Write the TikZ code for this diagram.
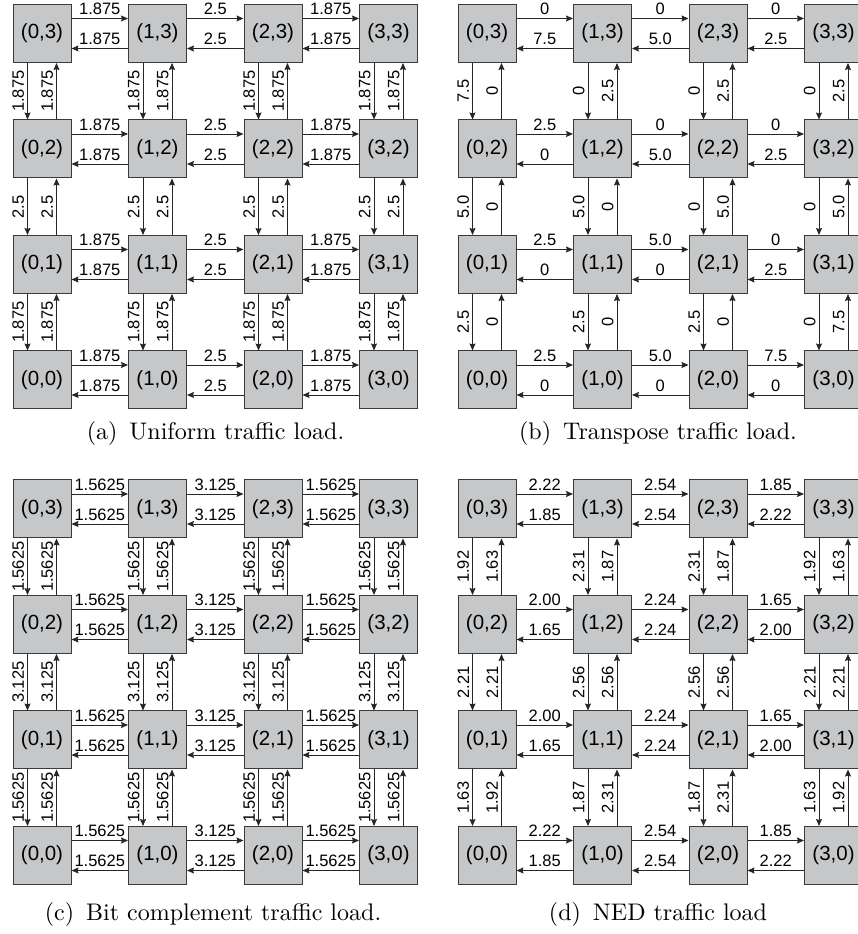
\documentclass[tikz,border=0pt]{standalone}
\usepackage{fontspec}
\usepackage{tikz}
\usetikzlibrary{arrows.meta, positioning}
\newfontfamily\meshfont{Liberation Sans}
\definecolor{routerfill}{HTML}{C6C7C9}
\definecolor{routerline}{HTML}{3A3A3A}
\definecolor{linkline}{HTML}{262626}

% one 4x4 mesh: prefix, horizontal loads i/j/east/west, vertical loads i/j/down/up
\newcommand{\meshpanel}[3]{%
  \foreach \i in {0,...,3}
    \foreach \j in {0,...,3}
      \node[router] (#1\i\j) at (\i*115.5, \j*115.5) {(\i,\j)};
  \foreach \i/\j/\lr/\rl in {#2} {
    \pgfmathtruncatemacro{\k}{\i+1}
    \draw[link] ([yshift=15pt]#1\i\j.east) -- node[hload] {\lr} ([yshift=15pt]#1\k\j.west);
    \draw[link] ([yshift=-15pt]#1\k\j.west) -- node[hload] {\rl} ([yshift=-15pt]#1\i\j.east);
  }
  \foreach \i/\j/\tb/\bt in {#3} {
    \pgfmathtruncatemacro{\k}{\j-1}
    \draw[link] ([xshift=-14.5pt]#1\i\j.south) -- node[vload] {\tb} ([xshift=-14.5pt]#1\i\k.north);
    \draw[link] ([xshift=14.5pt]#1\i\k.north) -- node[vload] {\bt} ([xshift=14.5pt]#1\i\j.south);
  }
}

\begin{document}
\begin{tikzpicture}[
        x=1pt, y=1pt,
        router/.style={rectangle, draw=routerline, fill=routerfill, line width=1pt, minimum size=58pt, inner sep=0pt, font={\meshfont\fontsize{20.5}{24}\selectfont}},
        link/.style={-{Stealth[length=7pt, width=6pt, inset=1pt]}, draw=linkline, line width=0.9pt},
        hload/.style={font={\meshfont\fontsize{16.5}{19}\selectfont}, inner sep=1pt, outer sep=2.5pt, anchor=south},
        vload/.style={hload, rotate=90},
        caption/.style={font=\normalsize, scale=2.4, transform shape}
    ]
    \useasboundingbox (0,0) rectangle (858,934);

    % (a) uniform
    \begin{scope}[shift={(42,554)}]
    \meshpanel{a}{0/0/1.875/1.875, 1/0/2.5/2.5, 2/0/1.875/1.875,
                  0/1/1.875/1.875, 1/1/2.5/2.5, 2/1/1.875/1.875,
                  0/2/1.875/1.875, 1/2/2.5/2.5, 2/2/1.875/1.875,
                  0/3/1.875/1.875, 1/3/2.5/2.5, 2/3/1.875/1.875}
                 {0/3/1.875/1.875, 1/3/1.875/1.875, 2/3/1.875/1.875, 3/3/1.875/1.875,
                  0/2/2.5/2.5, 1/2/2.5/2.5, 2/2/2.5/2.5, 3/2/2.5/2.5,
                  0/1/1.875/1.875, 1/1/1.875/1.875, 2/1/1.875/1.875, 3/1/1.875/1.875}
    \end{scope}

    % (b) transpose
    \begin{scope}[shift={(487,554)}]
    \meshpanel{b}{0/3/0/7.5, 1/3/0/5.0, 2/3/0/2.5,
                  0/2/2.5/0, 1/2/0/5.0, 2/2/0/2.5,
                  0/1/2.5/0, 1/1/5.0/0, 2/1/0/2.5,
                  0/0/2.5/0, 1/0/5.0/0, 2/0/7.5/0}
                 {0/3/7.5/0, 1/3/0/2.5, 2/3/0/2.5, 3/3/0/2.5,
                  0/2/5.0/0, 1/2/5.0/0, 2/2/0/5.0, 3/2/0/5.0,
                  0/1/2.5/0, 1/1/2.5/0, 2/1/2.5/0, 3/1/0/7.5}
    \end{scope}

    % (c) bit complement
    \begin{scope}[shift={(42,78.5)}]
    \meshpanel{c}{0/0/1.5625/1.5625, 1/0/3.125/3.125, 2/0/1.5625/1.5625,
                  0/1/1.5625/1.5625, 1/1/3.125/3.125, 2/1/1.5625/1.5625,
                  0/2/1.5625/1.5625, 1/2/3.125/3.125, 2/2/1.5625/1.5625,
                  0/3/1.5625/1.5625, 1/3/3.125/3.125, 2/3/1.5625/1.5625}
                 {0/3/1.5625/1.5625, 1/3/1.5625/1.5625, 2/3/1.5625/1.5625, 3/3/1.5625/1.5625,
                  0/2/3.125/3.125, 1/2/3.125/3.125, 2/2/3.125/3.125, 3/2/3.125/3.125,
                  0/1/1.5625/1.5625, 1/1/1.5625/1.5625, 2/1/1.5625/1.5625, 3/1/1.5625/1.5625}
    \end{scope}

    % (d) NED
    \begin{scope}[shift={(487,78.5)}]
    \meshpanel{d}{0/3/2.22/1.85, 1/3/2.54/2.54, 2/3/1.85/2.22,
                  0/2/2.00/1.65, 1/2/2.24/2.24, 2/2/1.65/2.00,
                  0/1/2.00/1.65, 1/1/2.24/2.24, 2/1/1.65/2.00,
                  0/0/2.22/1.85, 1/0/2.54/2.54, 2/0/1.85/2.22}
                 {0/3/1.92/1.63, 1/3/2.31/1.87, 2/3/2.31/1.87, 3/3/1.92/1.63,
                  0/2/2.21/2.21, 1/2/2.56/2.56, 2/2/2.56/2.56, 3/2/2.21/2.21,
                  0/1/1.63/1.92, 1/1/1.87/2.31, 2/1/1.87/2.31, 3/1/1.63/1.92}
    \end{scope}

    \node[caption] (capa) at (215.5,500) {(a)\enspace Uniform traffic load.};
    \node[caption] (capb) at (658,500) {(b)\enspace Transpose traffic load.};
    \node[caption] (capc) at (213,20) {(c)\enspace Bit complement traffic load.};
    \node[caption] (capd) at (658,20) {(d)\enspace NED traffic load};
\end{tikzpicture}
\end{document}
